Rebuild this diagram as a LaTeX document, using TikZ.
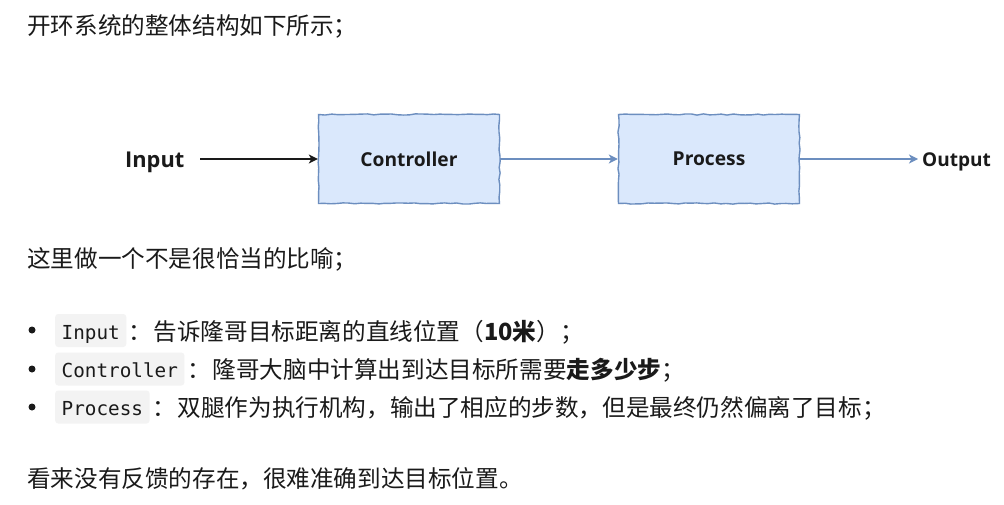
\documentclass[tikz,border=0pt]{standalone}
\usepackage{fontspec}
\setmainfont{Noto Sans CJK SC}
\newfontfamily\latin{Open Sans}
\newfontfamily\mono{DejaVu Sans Mono}
\usetikzlibrary{arrows.meta,decorations.pathmorphing}
\definecolor{boxfill}{HTML}{DAE8FC}
\definecolor{boxline}{HTML}{6C8EBF}
\definecolor{codebg}{HTML}{F3F3F3}
\definecolor{ink}{HTML}{1A1A1A}
\pgfmathsetseed{7}
\begin{document}
\begin{tikzpicture}[x=1pt,y=-1pt,
  txt/.style={anchor=base west, inner sep=0pt, text=ink, font=\fontsize{23.6pt}{23.6pt}\selectfont},
  lbl/.style={anchor=base west, inner ysep=0pt, text=ink},
  blk/.style={draw=boxline, fill=boxfill, line width=1.4pt, minimum width=181pt, minimum height=89pt,
    text=ink, font=\latin\bfseries\fontsize{19.2pt}{19.2pt}\selectfont,
    decorate, decoration={random steps, segment length=6pt, amplitude=0.6pt}},
  code/.style={anchor=west, fill=codebg, rounded corners=3pt, inner xsep=6.5pt, inner ysep=0pt,
    minimum height=33pt, text height=19.5pt, text depth=2pt, text=ink,
    font=\mono\fontsize{19.3pt}{19.3pt}\selectfont},
  dot/.style={circle, fill=ink, inner sep=0pt, minimum size=7pt},
  flow/.style={-{Stealth[length=9pt,width=9pt,inset=2.5pt]}, line width=1.3pt, draw=boxline},
  inflow/.style={-{Stealth[length=9pt,width=9pt,inset=2.5pt]}, line width=1.3pt, draw=ink}
]
\fill[white] (0,0) rectangle (1004,505);
\useasboundingbox (0,0) rectangle (1004,505);

\node[txt] (t1) at (27,35) {开环系统的整体结构如下所示；};

% diagram
\node[lbl, inner xsep=0pt, font=\latin\bfseries\fontsize{21.8pt}{21.8pt}\selectfont] (in) at (125,168) {Input};
\coordinate (instart) at (200,159);
\node[blk] (ctrl) at (409,159) {Controller};
\node[blk] (proc) at (709,159) {Process};
\node[lbl, inner xsep=4pt, font=\latin\bfseries\fontsize{19pt}{19pt}\selectfont] (out) at (918,167) {Output};
\draw[inflow] (instart) -- (ctrl.west);
\draw[flow] (ctrl.east) -- (proc.west);
\draw[flow] (proc.east) -- (proc.east -| out.west);

\node[txt] (t2) at (27,267) {这里做一个不是很恰当的比喻；};

% bullets
\node[dot] (d1) at (32,330) {};
\node[dot] (d2) at (32,369) {};
\node[dot] (d3) at (32,407) {};
\node[code] (c1) at (55,330.5) {Input};
\node[code] (c2) at (55,369) {Controller};
\node[code] (c3) at (55,407) {Process};
\node[txt] (b1) at (128,340) {：\hspace{2pt}告诉隆哥目标距离的直线位置（\textbf{10米}）；};
\node[txt] (b2) at (187,378) {：\hspace{2pt}隆哥大脑中计算出到达目标所需要\textbf{走多少步}；};
\node[txt] (b3) at (152,416) {：\hspace{2pt}双腿作为执行机构，输出了相应的步数，但是最终仍然偏离了目标；};

\node[txt] (t3) at (27,487) {看来没有反馈的存在，很难准确到达目标位置。};
\end{tikzpicture}
\end{document}
